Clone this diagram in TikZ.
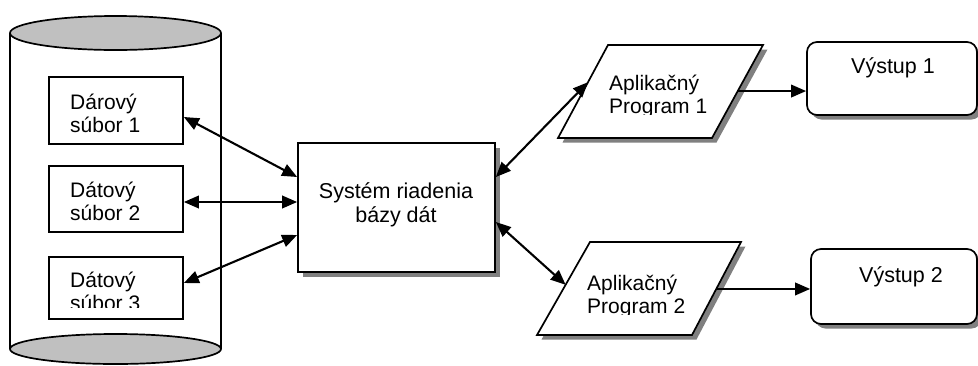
\documentclass[tikz,border=0pt]{standalone}
\usepackage{fontspec}
\setmainfont{Liberation Sans}
\usetikzlibrary{arrows.meta,calc,shadows}
\definecolor{cylgray}{HTML}{C0C0C0}
\definecolor{shadowgray}{HTML}{808080}
\tikzset{
  box/.style={draw, line width=1.7pt, fill=white, inner sep=0pt},
  shad/.style={drop shadow={shadow xshift=4.5pt, shadow yshift=-4.5pt, fill=shadowgray, opacity=1}},
  lbl/.style={font=\fontsize{21}{23}\selectfont, align=left, inner sep=0pt, anchor=base west},
  clbl/.style={font=\fontsize{21.5}{24}\selectfont, align=center, inner sep=0pt, anchor=base},
  conn/.style={line width=2.1pt, {Triangle[length=15pt,width=12.5pt]}-{Triangle[length=15pt,width=12.5pt]}},
  conn1/.style={line width=2.1pt, -{Triangle[length=15pt,width=12.5pt]}},
  outbox/.style={box, shad, rectangle, rounded corners=10pt},
}
\begin{document}
\begin{tikzpicture}[x=1pt,y=-1pt]
\useasboundingbox (0,0) rectangle (978,365);
% cylinder
\draw[line width=1.7pt] (10,33) -- (10,349) (221,33) -- (221,349);
\draw[line width=1.7pt, fill=cylgray] (115.5,33) ellipse [x radius=105.5, y radius=17];
\draw[line width=1.7pt, fill=cylgray] (115.5,349) ellipse [x radius=105.5, y radius=15];
% file boxes
\node[box, minimum width=134pt, minimum height=67pt] (f1) at (116,110.5) {};
\node[box, minimum width=134pt, minimum height=66pt] (f2) at (116,199) {};
\node[box, minimum width=134pt, minimum height=62pt] (f3) at (116,288) {};
\node[lbl] (t1) at (70,132) {Dárový\\súbor 1};
\node[lbl] (t2) at (70,220) {Dátový\\súbor 2};
\begin{scope}
  \clip (50,258) rectangle (182,307.5);
  \node[lbl] (t3) at (70,310) {Dátový\\súbor 3};
\end{scope}
% DBMS
\node[box, shad, minimum width=197pt, minimum height=129pt] (sdb) at (396.5,207.5) {};
\node[clbl] (ts) at (396,222) {Systém riadenia\\bázy dát};
% application programs (parallelograms)
\coordinate (p1bl) at (558,138);
\coordinate (p1tl) at (608,45);
\coordinate (p1tr) at (763,45);
\coordinate (p1br) at (712,138);
\coordinate (p2bl) at (537,335);
\coordinate (p2tl) at (590,242);
\coordinate (p2tr) at (741,242);
\coordinate (p2br) at (692,335);
\path[box, shad] (p1bl) -- (p1tl) -- (p1tr) -- (p1br) -- cycle;
\path[box, shad] (p2bl) -- (p2tl) -- (p2tr) -- (p2br) -- cycle;
\begin{scope}
  \clip (560,46) rectangle (760,114);
  \node[lbl] (tp1) at (609,113) {Aplikačný\\Program 1};
\end{scope}
\begin{scope}
  \clip (540,243) rectangle (740,314);
  \node[lbl] (tp2) at (587,313) {Aplikačný\\Program 2};
\end{scope}
% outputs
\node[outbox, minimum width=170pt, minimum height=73pt] (o1) at (892,78.5) {};
\node[outbox, minimum width=166pt, minimum height=75pt] (o2) at (894,286.5) {};
\node[clbl] (to1) at (893,73) {Výstup 1};
\node[clbl] (to2) at (901,282) {Výstup 2};
% connectors
\draw[conn] ([yshift=-6.5pt]f1.east) -- ([yshift=30.5pt]sdb.west);
\draw[conn] ([yshift=-3pt]f2.east) -- ([yshift=-3pt]f2.east -| sdb.west);
\draw[conn] ([yshift=5pt]f3.east) -- ([yshift=-27.5pt]sdb.west);
\coordinate (l1) at ($(p1bl)!0.6!(p1tl)$);
\coordinate (l2) at ($(p2bl)!0.54!(p2tl)$);
\draw[conn] ([yshift=30.5pt]sdb.east) -- (l1);
\draw[conn] ([yshift=-14.5pt]sdb.east) -- (l2);
\coordinate (r1) at ($(p1br)!0.505!(p1tr)$);
\coordinate (r2) at ($(p2br)!0.495!(p2tr)$);
\draw[conn1] (r1) -- (r1 -| o1.west);
\draw[conn1] (r2) -- (r2 -| o2.west);
\end{tikzpicture}
\end{document}
